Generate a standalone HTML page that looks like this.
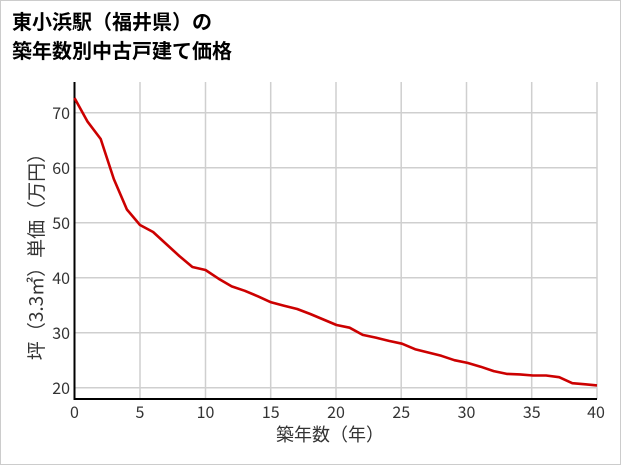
<!DOCTYPE html>
<html><head><meta charset="utf-8"><style>
body{margin:0;background:#fff}
svg{display:block;font-family:"Noto Sans CJK JP",sans-serif}
</style></head><body>
<svg width="621" height="465" viewBox="0 0 621 465">
<rect x="0.5" y="0.5" width="620" height="464" fill="#fff" stroke="#ccc"/>
<text x="12" y="29" font-size="20" font-weight="bold" fill="#000">東小浜駅（福井県）の</text>
<text x="12" y="58" font-size="20" font-weight="bold" fill="#000">築年数別中古戸建て価格</text>
<g stroke="#cfcfcf" stroke-width="1.5">
<line x1="140" y1="82" x2="140" y2="399"/><line x1="205.5" y1="82" x2="205.5" y2="399"/>
<line x1="270.7" y1="82" x2="270.7" y2="399"/><line x1="336" y1="82" x2="336" y2="399"/>
<line x1="401.2" y1="82" x2="401.2" y2="399"/><line x1="466.5" y1="82" x2="466.5" y2="399"/>
<line x1="531.7" y1="82" x2="531.7" y2="399"/><line x1="597" y1="82" x2="597" y2="399"/>
<line x1="74" y1="112.7" x2="597" y2="112.7"/><line x1="74" y1="167.7" x2="597" y2="167.7"/>
<line x1="74" y1="222.7" x2="597" y2="222.7"/><line x1="74" y1="277.7" x2="597" y2="277.7"/>
<line x1="74" y1="332.7" x2="597" y2="332.7"/><line x1="74" y1="387.7" x2="597" y2="387.7"/>
</g>
<line x1="74.5" y1="82" x2="74.5" y2="400" stroke="#000" stroke-width="2"/>
<line x1="73.5" y1="399" x2="597" y2="399" stroke="#000" stroke-width="2"/>
<g font-size="16" fill="#333" text-anchor="end">
<text x="70" y="119">70</text><text x="70" y="174">60</text><text x="70" y="229">50</text>
<text x="70" y="284">40</text><text x="70" y="339">30</text><text x="70" y="394">20</text>
</g>
<g font-size="16" fill="#333" text-anchor="middle">
<text x="74.5" y="418">0</text><text x="140" y="418">5</text><text x="205.5" y="418">10</text>
<text x="270.7" y="418">15</text><text x="336" y="418">20</text><text x="401.2" y="418">25</text>
<text x="466.5" y="418">30</text><text x="531.7" y="418">35</text><text x="596" y="418">40</text>
</g>
<text x="330" y="441" font-size="18" fill="#333" text-anchor="middle">築年数（年）</text>
<text transform="translate(43,252) rotate(-90)" font-size="19" fill="#333" text-anchor="middle">坪（3.3㎡）単価（万円）</text>
<polyline fill="none" stroke="#cc0000" stroke-width="2.6" stroke-linejoin="round" points="
74.5,98 87.6,121.7 100.7,139 113.8,179 126.9,209.5 140,225 153.1,232 166.2,244 179.3,256 192.4,267 205.5,270 218.6,278.7 231.7,286.4 244.8,290.8 257.9,296.3 271,302.3 284.1,305.7 297.2,309 310.3,314 323.4,319.5 336.5,325 349.6,327.7 362.7,334.9 375.8,337.6 388.9,340.9 402,343.7 415.1,349.2 428.2,352.5 441.3,355.8 454.4,360.2 467.5,362.9 480.6,366.7 493.7,371.1 506.8,373.9 519.9,374.4 533,375.5 546.1,375.5 559.2,377.2 572.3,383.2 585.4,384.3 597,385.4"/>
</svg>
</body></html>
